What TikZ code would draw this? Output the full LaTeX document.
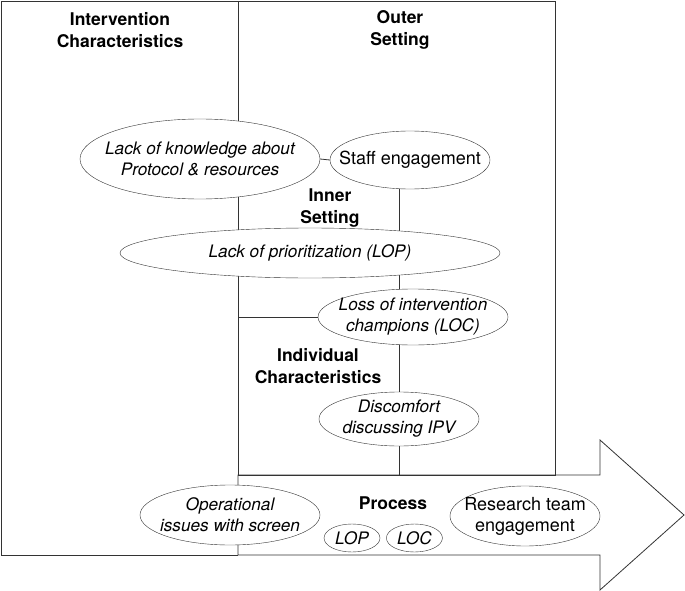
\documentclass[tikz,border=0pt]{standalone}
\usepackage{fontspec}
\setmainfont{TeX Gyre Heros}
\usetikzlibrary{positioning, shapes.geometric, backgrounds}

\begin{document}
\begin{tikzpicture}[x=1pt, y=-1pt,
    barrier/.style={draw=black!80, ellipse, fill=white, inner xsep=-40pt, inner ysep=-6pt, align=center, font=\fontsize{17.2}{21}\selectfont\itshape},
    facil/.style={barrier, font=\fontsize{18}{21}\selectfont},
    cfir/.style={align=center, font=\fontsize{17.5}{21.5}\selectfont\bfseries},
    frame/.style={draw=black!80, line width=0.8pt}]

\useasboundingbox (0,0) rectangle (685,591);

% Domain labels
\node[cfir] (intchar) at (120,30) {Intervention\\Characteristics};
\node[cfir] (outer) at (400,30) {Outer\\Setting};
\node[cfir] (inner) at (330,208) {Inner\\Setting};
\node[cfir] (indiv) at (318,366) {Individual\\Characteristics};
\node[cfir] (proc) at (393,503) {Process};

% Barriers and facilitators
\node[barrier, minimum width=240, minimum height=80] (know) at (200,159) {Lack of knowledge about\\Protocol \& resources};
\node[facil, minimum width=160, minimum height=58] (staff) at (410,160) {Staff engagement};
\node[barrier, minimum width=380, minimum height=50] (lop) at (310,253) {Lack of prioritization (LOP)};
\node[barrier, minimum width=190, minimum height=56] (loc) at (413,317) {Loss of intervention\\champions (LOC)};
\node[barrier, minimum width=160, minimum height=54] (ipv) at (399,419) {Discomfort\\discussing IPV};
\node[barrier, minimum width=180, minimum height=60] (oper) at (230,515) {Operational\\issues with screen};
\node[barrier, minimum width=56, minimum height=28] (lopsm) at (352,538) {LOP};
\node[barrier, minimum width=56, minimum height=28, right=6pt of lopsm] (locsm) {LOC};
\node[facil, minimum width=150, minimum height=60] (team) at (525,516) {Research team\\engagement};

% Frame, arrow and links behind the ellipses
\begin{scope}[on background layer]
\coordinate (divtop) at (238,1);
\coordinate (atop) at (555,475);
\draw[frame] (divtop |- atop) -| (555,1) -| (1,555) -- (238,555);
\draw[frame] (divtop |- atop) -- (600,475) -- (600,440) -- (684,515) -- (600,590) -- (600,555) -- (238,555) -- cycle;
\draw[frame] (divtop) -- (divtop |- atop);
\draw[frame] (ipv |- staff) -- (ipv |- atop);
\draw[frame] (divtop |- loc) -- (loc.west);
\draw[frame] (know.east) -- (staff.west);
\end{scope}

\end{tikzpicture}
\end{document}
